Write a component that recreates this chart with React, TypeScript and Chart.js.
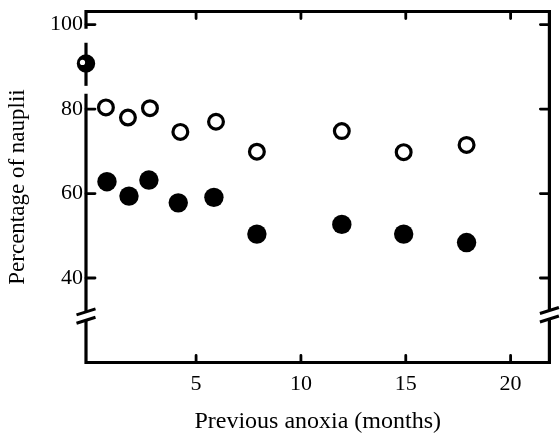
import React, { useEffect, useRef } from "react";
import { Chart, registerables } from "chart.js";

Chart.register(...registerables);

// ---- data ----
const monthsOpen = [0.7, 1.75, 2.8, 4.25, 5.95, 7.9, 11.95, 14.9, 17.9];
const openValues = [80.4, 78.0, 80.2, 74.6, 77.0, 69.9, 74.8, 69.8, 71.5];
const monthsFilled = [0.75, 1.8, 2.75, 4.15, 5.85, 7.9, 11.95, 14.9, 17.9];
const filledValues = [62.8, 59.4, 63.2, 57.8, 59.1, 50.4, 52.7, 50.4, 48.4];
const initialMonth = [-0.25];
const initialValue = [90.8];
const initialHigh = [95.7];
const initialLow = [85.5];
const xTicks = [5, 10, 15, 20];
const yTicks = [40, 60, 80, 100];
const xRange = [-0.25, 21.85];
const yRange = [20, 103.1];
const yBreak = [31];
const xTitle = "Previous anoxia (months)";
const yTitle = "Percentage of nauplii";

const FONT = "'Liberation Serif', 'Times New Roman', serif";

const framePlugin = {
  id: "frame",
  beforeDatasetsDraw(chart: any) {
    const { ctx, chartArea } = chart;
    const { left, right, top, bottom } = chartArea;
    const x = chart.scales.x;
    const y = chart.scales.y;
    const by = y.getPixelForValue(yBreak[0]);
    const hi = y.getPixelForValue(initialHigh[0]);
    const lo = y.getPixelForValue(initialLow[0]);
    const ix = x.getPixelForValue(initialMonth[0]);
    ctx.save();
    ctx.strokeStyle = "#000";
    ctx.lineWidth = 3.2;
    ctx.lineCap = "butt";
    ctx.beginPath();
    // left axis with halo around the initial point and the break
    ctx.moveTo(left, top - 1.6);
    ctx.lineTo(left, hi - 14);
    ctx.moveTo(left, lo + 8);
    ctx.lineTo(left, by - 4.2);
    ctx.moveTo(left, by + 4.2);
    ctx.lineTo(left, bottom + 1.6);
    // bottom axis
    ctx.moveTo(left - 1.6, bottom);
    ctx.lineTo(right + 1.6, bottom);
    // top axis
    ctx.moveTo(left - 1.6, top);
    ctx.lineTo(right + 1.6, top);
    // right axis with break
    ctx.moveTo(right, top - 1.6);
    ctx.lineTo(right, by - 5.5);
    ctx.moveTo(right, by + 3);
    ctx.lineTo(right, bottom + 1.6);
    ctx.stroke();

    // error bar of initial point
    ctx.beginPath();
    ctx.moveTo(ix, hi);
    ctx.lineTo(ix, lo);
    ctx.stroke();

    // tick marks (inward)
    ctx.lineCap = "round";
    ctx.lineWidth = 2.8;
    ctx.beginPath();
    for (const t of xTicks) {
      const px = x.getPixelForValue(t);
      ctx.moveTo(px, bottom);
      ctx.lineTo(px, bottom - 7);
      ctx.moveTo(px, top);
      ctx.lineTo(px, top + 7);
    }
    for (const t of yTicks) {
      const py = y.getPixelForValue(t);
      ctx.moveTo(left, py);
      ctx.lineTo(left + 9, py);
      ctx.moveTo(right, py);
      ctx.lineTo(right - 9, py);
    }
    ctx.stroke();

    // break slashes
    ctx.lineCap = "butt";
    ctx.lineWidth = 3;
    ctx.beginPath();
    const slash = (cx: number, cy: number) => {
      ctx.moveTo(cx - 9.5, cy + 3);
      ctx.lineTo(cx + 9.5, cy - 3);
    };
    slash(left, by - 4.2);
    slash(left, by + 4.2);
    slash(right, by - 5.5);
    slash(right, by + 3);
    ctx.stroke();
    ctx.restore();
  },
  afterDatasetsDraw(chart: any) {
    const { ctx } = chart;
    const x = chart.scales.x;
    const y = chart.scales.y;
    const cx = x.getPixelForValue(initialMonth[0]);
    const cy = y.getPixelForValue(initialValue[0]);
    ctx.save();
    ctx.fillStyle = "#fff";
    ctx.beginPath();
    ctx.arc(cx - 3.5, cy - 1, 2.6, 0, Math.PI * 2);
    ctx.fill();
    ctx.restore();
  },
};

export default function App() {
  const ref = useRef<HTMLCanvasElement | null>(null);

  useEffect(() => {
    document.body.style.margin = "0";
    const canvas = ref.current;
    if (!canvas) return;
    const chart = new Chart(canvas, {
      type: "scatter",
      data: {
        datasets: [
          {
            label: "open",
            data: monthsOpen.map((m, i) => ({ x: m, y: openValues[i] })),
            pointRadius: 7.4,
            pointBorderWidth: 3.2,
            pointBackgroundColor: "#fff",
            pointBorderColor: "#000",
            clip: false,
          },
          {
            label: "filled",
            data: monthsFilled.map((m, i) => ({ x: m, y: filledValues[i] })),
            pointRadius: 9.7,
            pointBorderWidth: 0,
            pointBackgroundColor: "#000",
            pointBorderColor: "#000",
            clip: false,
          },
          {
            label: "initial",
            data: initialMonth.map((m, i) => ({ x: m, y: initialValue[i] })),
            pointRadius: 9.2,
            pointBorderWidth: 0,
            pointBackgroundColor: "#000",
            pointBorderColor: "#000",
            clip: false,
          },
        ],
      } as any,
      options: {
        responsive: false,
        animation: false,
        events: [],
        layout: { padding: { left: 0, right: 8, top: 11.5, bottom: 0 } },
        plugins: { legend: { display: false }, tooltip: { enabled: false } },
        scales: {
          x: {
            type: "linear",
            min: xRange[0],
            max: xRange[1],
            grid: { display: false, drawTicks: false },
            border: { display: false },
            afterBuildTicks: (s: any) => {
              s.ticks = xTicks.map((v) => ({ value: v }));
            },
            afterFit: (s: any) => {
              s.height = 81.5;
              s.paddingLeft = 0;
              s.paddingRight = 0;
            },
            ticks: {
              color: "#000",
              padding: 9,
              maxRotation: 0,
              autoSkip: false,
              font: { family: FONT, size: 22 },
              callback: (v: any) => String(v),
            },
            title: {
              display: true,
              text: xTitle,
              color: "#000",
              font: { family: FONT, size: 24 },
              padding: { top: 0, bottom: 8 },
            },
          },
          y: {
            type: "linear",
            min: yRange[0],
            max: yRange[1],
            grid: { display: false, drawTicks: false },
            border: { display: false },
            afterBuildTicks: (s: any) => {
              s.ticks = yTicks.map((v) => ({ value: v }));
            },
            afterFit: (s: any) => {
              s.width = 86;
              s.paddingTop = 0;
              s.paddingBottom = 0;
            },
            ticks: {
              color: "#000",
              padding: 3,
              autoSkip: false,
              font: { family: FONT, size: 22 },
              callback: (v: any) => String(v),
            },
            title: {
              display: true,
              text: yTitle,
              color: "#000",
              font: { family: FONT, size: 23 },
              padding: { top: 4, bottom: 0 },
            },
          },
        },
      } as any,
      plugins: [framePlugin],
    });
    return () => chart.destroy();
  }, []);

  return (
    <div style={{ position: "fixed", left: 0, top: 0, width: 560, height: 444, background: "#fff" }}>
      <canvas ref={ref} width={560} height={444} style={{ display: "block" }} />
    </div>
  );
}
